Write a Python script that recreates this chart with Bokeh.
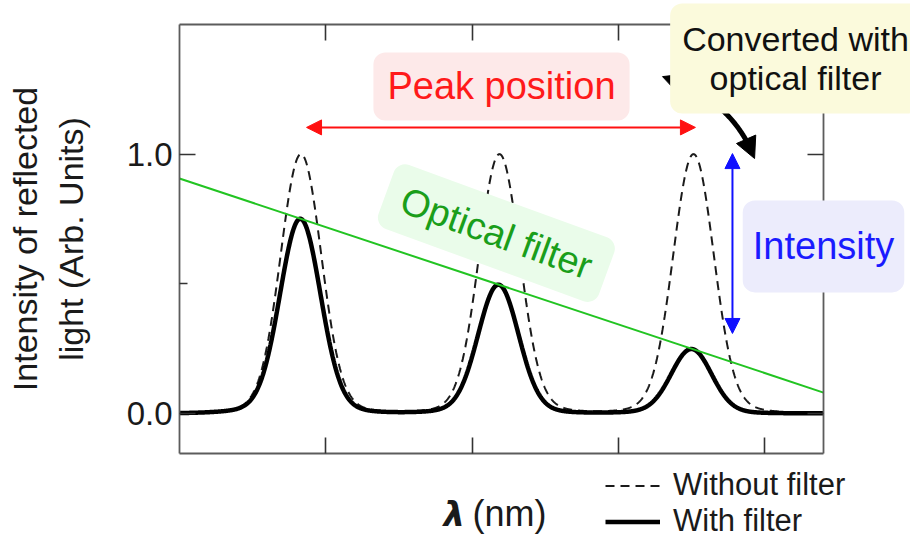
import numpy as np
from bokeh.plotting import figure
from bokeh.models import (Range1d, LinearAxis, FixedTicker, Label, Arrow, NormalHead,
                          Legend, LegendItem, PrintfTickFormatter)
from bokeh.embed import file_html
from bokeh.resources import INLINE

# ---------------- data ----------------
x_box = [0.0, 4.4]               # wavelength axis extent, arbitrary units
y_box = [-0.155, 1.5]            # intensity axis extent (arb. units)
peak_centers = [0.83, 2.186, 3.512]
peak_heights = [1.0, 1.0, 1.0]
peak_sigmas = [0.137, 0.137, 0.137]
pedestal_fraction = 0.04
pedestal_sigma = 0.31
filter_x = [0.0, 4.4]            # optical filter transmission line
filter_y = [0.906, 0.080]
y_ticks = [0.0, 1.0]
y_minor_ticks = [0.5]
x_ticks = [1, 2, 3, 4]
series_labels = ["Without filter", "With filter"]
y_axis_title = "Intensity of reflected\nlight (Arb. Units)"

# annotation anchors (data units)
peak_arrow = dict(x0=0.868, x1=3.525, y=1.103)
intensity_arrow = dict(x=3.778, y0=1.002, y1=0.308)
convert_arrow = dict(x0=3.300, y0=1.299, cx=3.778, cy=1.211, x1=3.929, y1=0.983)

FONT = "Liberation Sans"

# ---------------- spectra ----------------
lam = np.linspace(x_box[0], x_box[1], 1501)
without = np.zeros_like(lam)
for c, h, s in zip(peak_centers, peak_heights, peak_sigmas):
    without += h * ((1 - pedestal_fraction) * np.exp(-0.5 * ((lam - c) / s) ** 2)
                    + pedestal_fraction * np.exp(-0.5 * ((lam - c) / pedestal_sigma) ** 2))
transmission = np.interp(lam, filter_x, filter_y)
with_filter = without * transmission

# ---------------- figure: frame covers whole canvas, axes drawn at fixed locations --------
p = figure(width=910, height=541,
           x_range=Range1d(-1.2230, 4.9944), y_range=Range1d(-0.4945, 1.5926),
           x_axis_location=None, y_axis_location=None,
           output_backend="svg", toolbar_location=None, min_border=0,
           background_fill_color="white", border_fill_color="white", outline_line_color=None)
p.grid.visible = False

AX = "#5c5c5c"


def make_axis(loc, bounds, ticks, minor, show_labels):
    ax = LinearAxis(fixed_location=loc, bounds=bounds,
                    ticker=FixedTicker(ticks=ticks, minor_ticks=minor))
    ax.axis_line_color = AX
    ax.axis_line_width = 1.8
    ax.major_tick_in = 16
    ax.major_tick_out = 0
    ax.minor_tick_in = 8
    ax.minor_tick_out = 0
    ax.major_tick_line_color = "#333333"
    ax.major_tick_line_width = 1.6
    ax.minor_tick_line_color = "#333333"
    ax.minor_tick_line_width = 1.6
    if not show_labels:
        ax.major_label_text_color = None
    return ax


left = make_axis(x_box[0], tuple(y_box), y_ticks, y_minor_ticks, True)
left.formatter = PrintfTickFormatter(format="%.1f")
left.major_label_text_font = FONT
left.major_label_text_font_size = "33px"
left.major_label_text_color = "#1a1a1a"
left.major_label_standoff = 7
left.axis_label = y_axis_title
left.axis_label_text_font = FONT
left.axis_label_text_font_size = "34px"
left.axis_label_text_font_style = "normal"
left.axis_label_text_color = "#1a1a1a"
left.axis_label_standoff = 34
p.add_layout(left, "left")

p.add_layout(make_axis(x_box[1], tuple(y_box), y_ticks, y_minor_ticks, False), "right")
p.add_layout(make_axis(y_box[0], tuple(x_box), x_ticks, [], False), "below")
p.add_layout(make_axis(y_box[1], tuple(x_box), x_ticks, [], False), "above")

# ---------------- curves ----------------
r_without = p.line(lam, without, line_color="#1a1a1a", line_width=2, line_dash="9 6")
r_with = p.line(lam, with_filter, line_color="black", line_width=4.5)
r_filter = p.line(filter_x, filter_y, line_color="#22c422", line_width=2)

legend = Legend(items=[LegendItem(label=series_labels[0], renderers=[r_without]),
                       LegendItem(label=series_labels[1], renderers=[r_with])],
                location=(605, 2), padding=0, margin=0, spacing=-7,
                glyph_width=55, glyph_height=31, label_height=31, label_standoff=13,
                label_text_font=FONT, label_text_font_size="31px", label_text_color="#1a1a1a",
                border_line_alpha=0, background_fill_alpha=0)
p.add_layout(legend)

# ---------------- arrows ----------------
p.add_layout(Arrow(x_start=peak_arrow["x0"], y_start=peak_arrow["y"],
                   x_end=peak_arrow["x1"], y_end=peak_arrow["y"],
                   line_color="#ff1010", line_width=2,
                   start=NormalHead(size=15, fill_color="#ff1010", line_color="#ff1010"),
                   end=NormalHead(size=15, fill_color="#ff1010", line_color="#ff1010")))
p.add_layout(Arrow(x_start=intensity_arrow["x"], y_start=intensity_arrow["y0"],
                   x_end=intensity_arrow["x"], y_end=intensity_arrow["y1"],
                   line_color="#1010ff", line_width=2,
                   start=NormalHead(size=15, fill_color="#1010ff", line_color="#1010ff"),
                   end=NormalHead(size=15, fill_color="#1010ff", line_color="#1010ff")))

ca = convert_arrow
P0 = np.array([ca["x0"], ca["y0"]])
C = np.array([ca["cx"], ca["cy"]])
P1 = np.array([ca["x1"], ca["y1"]])


def bez(t):
    return (1 - t) ** 2 * P0 + 2 * (1 - t) * t * C + t ** 2 * P1


tt = np.linspace(0.1, 0.9, 60)
pts = np.array([bez(t) for t in tt])
p.line(pts[:, 0], pts[:, 1], line_color="black", line_width=5)
for tip, base in ((P0, bez(0.12)), (P1, bez(0.88))):
    p.add_layout(Arrow(x_start=base[0], y_start=base[1], x_end=tip[0], y_end=tip[1],
                       line_alpha=0, start=None,
                       end=NormalHead(size=21, fill_color="black", line_color="black")))

# ---------------- labels ----------------


def box_label(x, y, text, color, fill, size, pad, angle=0.0, radius=12, lh=1.15):
    lab = Label(x=x, y=y, text=text, text_color=color, text_font=FONT, text_font_size=size,
                text_align="center", text_baseline="middle", angle=angle,
                background_fill_color=fill, border_line_alpha=0,
                border_radius=radius, padding=pad, text_line_height=lh)
    p.add_layout(lab)
    return lab


box_label(2.200, 1.261, "Peak position", "#ff1a1a", "#fde9e9", "38px",
          dict(left=14, right=14, top=13, bottom=13))
box_label(4.209, 1.369, "Converted with\noptical filter", "#111111", "#fbfadc", "34px",
          dict(left=12, right=12, top=16, bottom=16), lh=1.05)
box_label(4.400, 0.644, "Intensity", "#1a1aff", "#ececfc", "38px",
          dict(left=10, right=10, top=25, bottom=25))
box_label(2.165, 0.695, "Optical filter", "#1a9e1a", "#eafcea", "38px",
          dict(left=17, right=17, top=13, bottom=13), angle=-0.35)

p.add_layout(Label(x=1.804, y=-0.3865, text="λ", text_font="DejaVu Sans",
                   text_font_style="bold italic", text_font_size="34px",
                   text_color="#1a1a1a", text_align="left", text_baseline="middle"))
p.add_layout(Label(x=2.002, y=-0.3865, text="(nm)", text_font=FONT,
                   text_font_size="36px", text_color="#1a1a1a",
                   text_align="left", text_baseline="middle"))

open("out.html", "w").write(file_html(p, INLINE))
